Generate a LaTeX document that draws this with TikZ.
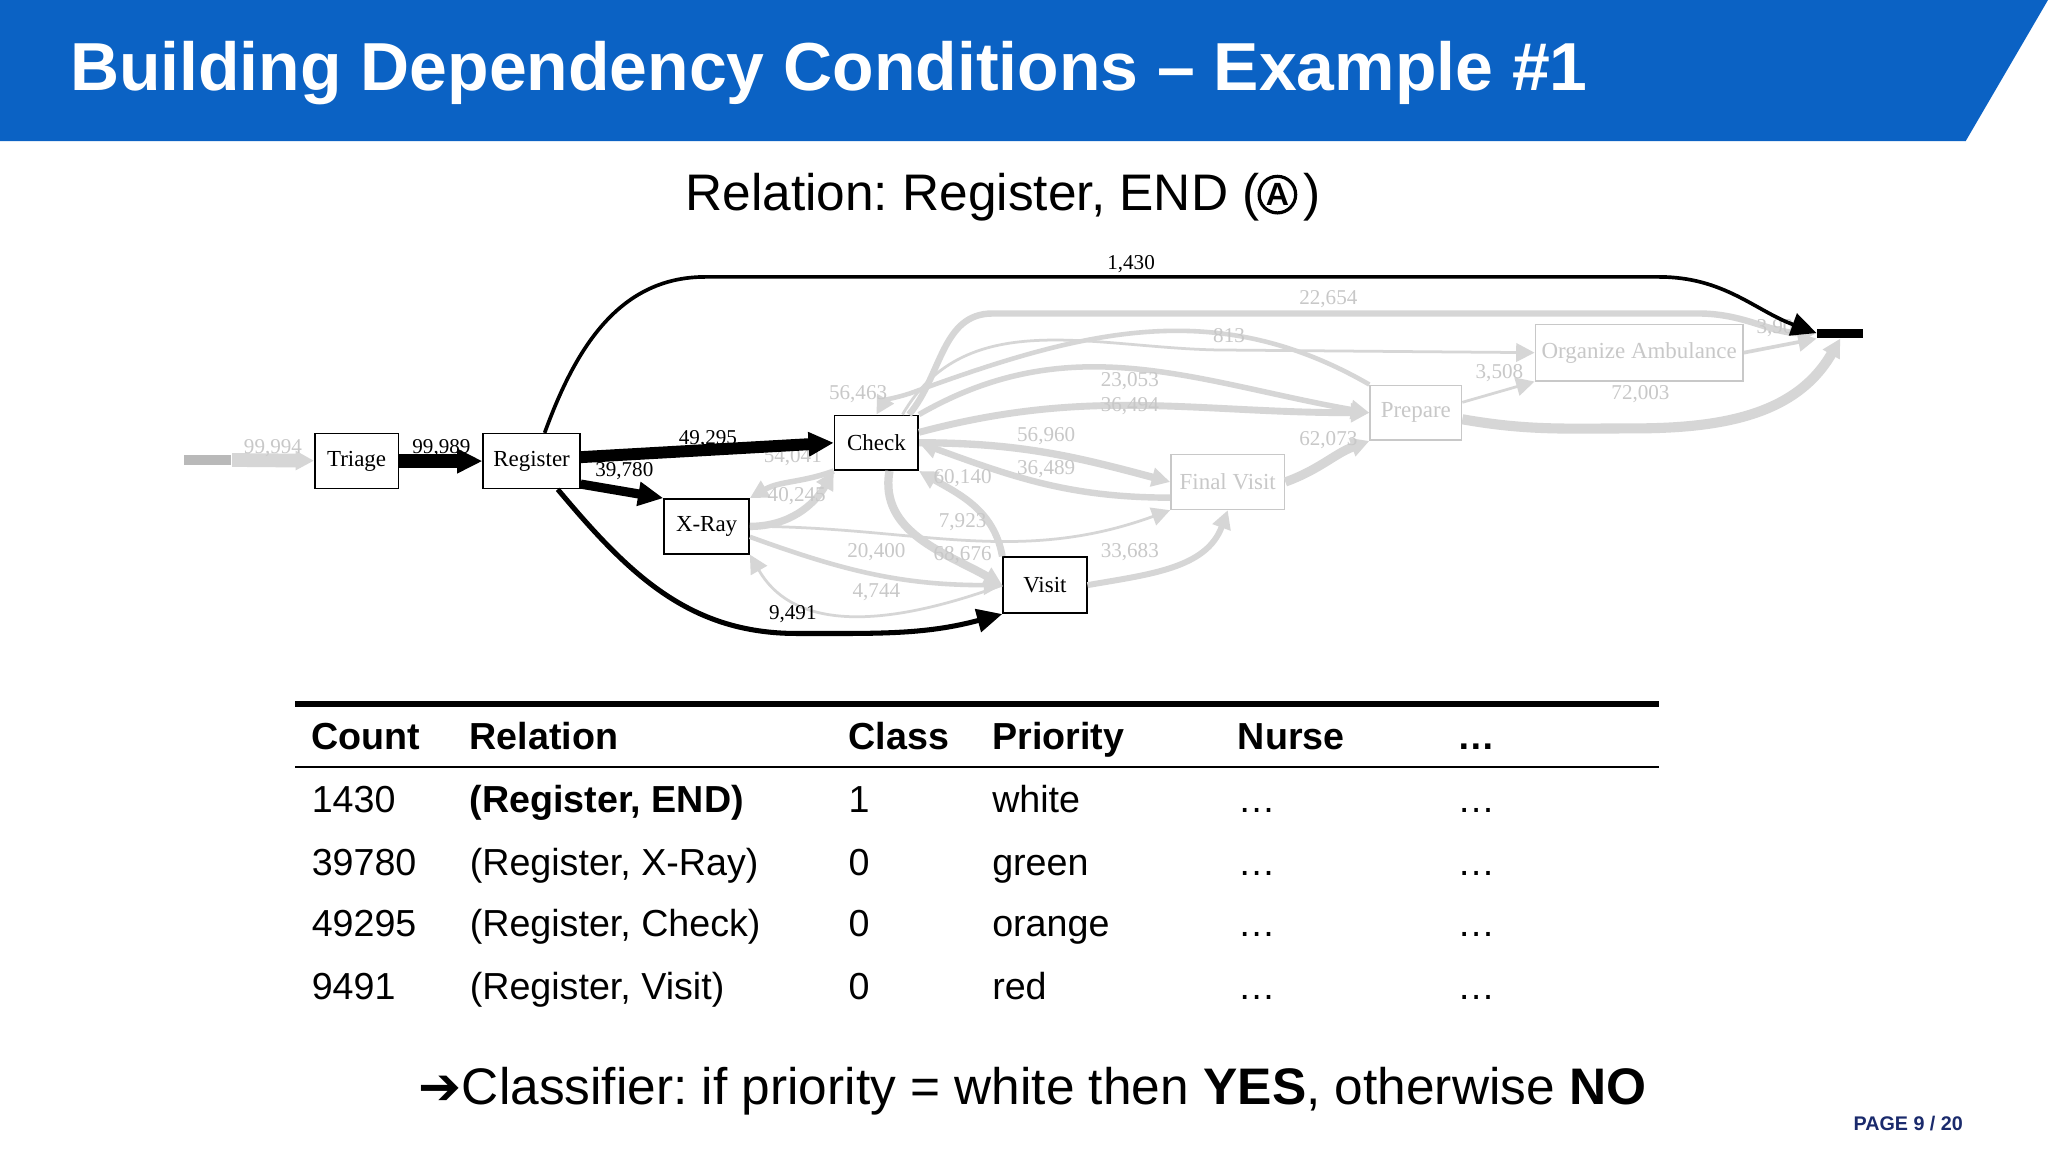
\documentclass[tikz,border=0pt]{standalone}
\usepackage{fontspec}
\setmainfont{Liberation Sans}
\newfontfamily\serif{Liberation Serif}
\newfontfamily\dejavu{DejaVu Sans}
\usetikzlibrary{arrows.meta}
\frenchspacing
\definecolor{banner}{HTML}{0B62C4}
\definecolor{navy}{HTML}{1A2A6C}
\definecolor{faint}{HTML}{D6D6D6}
\definecolor{faintt}{HTML}{C8C8C8}
\tikzset{
  box/.style={draw, line width=0.35pt, inner sep=0, font=\serif\fontsize{5}{6}\selectfont},
  fbox/.style={box, draw=faintt, text=faintt},
  lbl/.style={font=\serif\fontsize{4.6}{5}\selectfont, inner sep=0},
  flbl/.style={lbl, text=faintt},
  fe/.style={draw=faint, line width=#1, -{Triangle[length=4pt,width=4pt]}},
  be/.style={line width=#1, -{Triangle[length=5.5pt,width=5pt]}},
  hdr/.style={font=\bfseries\fontsize{8.2}{10}\selectfont, anchor=base west, inner sep=0},
  cell/.style={font=\fontsize{8.2}{10}\selectfont, anchor=base west, inner sep=0},
}
\begin{document}
\begin{tikzpicture}[x=0.1mm,y=-0.1mm]
\useasboundingbox (0,0) rectangle (1568,882);
\fill[white] (0,0) rectangle (1568,882);
% banner
\fill[banner] (0,0) -- (1568,0) -- (1505,108) -- (0,108) -- cycle;
\node[anchor=west, text=white, font=\bfseries\fontsize{14.8}{18}\selectfont, inner sep=0] (title) at (53,56) {Building Dependency Conditions -- Example \#1};
\node[font=\fontsize{11.2}{13}\selectfont, inner sep=0, anchor=base west] (rel) at (524,161) {Relation: Register, END (\hspace{3.4mm})};
\node[draw, circle, line width=0.7pt, minimum size=28*0.1mm, inner sep=0, font=\bfseries\fontsize{7}{8}\selectfont] (circA) at (978,149) {A};

% nodes
\node[fill=gray!55, minimum width=36*0.1mm, minimum height=8*0.1mm, inner sep=0] (start) at (159,352) {};
\node[box, minimum width=64*0.1mm, minimum height=42*0.1mm] (triage) at (273,353) {Triage};
\node[box, minimum width=74*0.1mm, minimum height=42*0.1mm] (reg) at (407,353) {Register};
\node[box, minimum width=64*0.1mm, minimum height=42*0.1mm] (check) at (671,339) {Check};
\node[box, minimum width=65*0.1mm, minimum height=42*0.1mm] (xray) at (541,403) {X-Ray};
\node[box, minimum width=64*0.1mm, minimum height=43*0.1mm] (visit) at (800,448) {Visit};
\node[fbox, minimum width=87*0.1mm, minimum height=42*0.1mm] (fvisit) at (940,369) {Final Visit};
\node[fbox, minimum width=70*0.1mm, minimum height=42*0.1mm] (prep) at (1084,316) {Prepare};
\node[fbox, minimum width=159*0.1mm, minimum height=43*0.1mm] (amb) at (1255,270) {Organize Ambulance};
\node[fill=black, minimum width=35*0.1mm, minimum height=7*0.1mm, inner sep=0] (end) at (1409,255) {};

% faint edges
\draw[fe=3pt] (start) -- (triage);
\draw[fe=1.6pt] (xray.east) to[out=0,in=240] (check.south west);
\draw[fe=1.2pt] (check.south west) to[out=200,in=30] (xray.north east);
\draw[fe=0.6pt] (xray.east) to[out=0,in=200] (fvisit.south west);
\draw[fe=1pt] (xray.east) ++(0,8) to[out=-20,in=180] (visit.west);
\draw[fe=0.6pt] (visit.west) to[out=200,in=-60] (xray.south east);
\draw[fe=1.8pt] (check.south) ++(10,0) to[out=260,in=150] (visit.west);
\draw[fe=1.5pt] (visit.north west) to[out=100,in=-30] (check.south east);
\draw[fe=1.6pt] (check.east) to[out=0,in=165] (fvisit.west);
\draw[fe=1.4pt] (fvisit.west) ++(0,12) to[out=180,in=-20] (check.east);
\draw[fe=1.5pt] (check.east) ++(0,-8) to[out=15,in=180] (prep.west);
\draw[fe=1.2pt] (check.north east) to[out=30,in=170] (prep.west);
\draw[fe=0.6pt] (check.north) ++(20,0) to[out=60,in=180] (940,268) -- (amb.west);
\draw[fe=1.4pt] (check.north) ++(25,0) to[out=50,in=180] (760,240) -- (1300,240) to[out=0,in=180] (end.west);
\draw[fe=1pt] (prep.north west) to[out=150,in=20] (700,300) to[out=200,in=60] (check.north);
\draw[fe=1.3pt] (visit.east) to[out=10,in=250] (fvisit.south);
\draw[fe=2pt] (fvisit.east) to[out=20,in=200] (prep.south west);
\draw[fe=0.6pt] (prep.east) ++(0,-8) -- (amb.west|-amb.south);
\draw[fe=0.8pt] (amb.east) -- (end.south west);
\draw[fe=2.2pt] (prep.east) ++(0,5) to[out=-10,in=180] (1250,328) to[out=0,in=240] (end.south);

% faint labels
\node[flbl] (l1) at (209,343) {99,994};
\node[flbl] (l2) at (607,350) {54,041};
\node[flbl] (l3) at (610,380) {40,245};
\node[flbl] (l4) at (657,302) {56,463};
\node[flbl] (l5) at (737,366) {60,140};
\node[flbl] (l6) at (737,400) {7,923};
\node[flbl] (l7) at (671,423) {20,400};
\node[flbl] (l8) at (737,425) {68,676};
\node[flbl] (l9) at (671,453) {4,744};
\node[flbl] (l10) at (801,334) {56,960};
\node[flbl] (l11) at (801,359) {36,489};
\node[flbl] (l12) at (865,292) {23,053};
\node[flbl] (l13) at (865,311) {36,494};
\node[flbl] (l14) at (941,257) {813};
\node[flbl] (l15) at (1017,229) {22,654};
\node[flbl] (l16) at (865,423) {33,683};
\node[flbl] (l17) at (1017,337) {62,073};
\node[flbl] (l18) at (1148,286) {3,508};
\node[flbl] (l19) at (1256,302) {72,003};
\node[flbl] (l20) at (1363,251) {3,909};

% black edges
\draw[be=3.2pt] (triage) -- (reg);
\draw[be=2.6pt] (reg.east) ++(0,-3) -- (check.west);
\draw[be=2pt] (reg.south east) ++(0,-4) -- (xray.north west);
\draw[be=1.1pt] (reg.south) ++(20,0) to[out=-50,in=180] (610,485) to[out=0,in=195] (visit.south west);
\draw[be=0.8pt] (reg.north) ++(10,0) to[out=70,in=180] (540,212) -- (1270,212) to[out=0,in=160] (end.west);
\node[lbl] (b1) at (338,343) {99,989};
\node[lbl] (b2) at (542,336) {49,295};
\node[lbl] (b3) at (478,361) {39,780};
\node[lbl] (b4) at (607,470) {9,491};
\node[lbl] (b5) at (866,202) {1,430};

% table
\draw[line width=1.1pt] (226,539) -- (1270,539);
\draw[line width=0.5pt] (226,587) -- (1270,587);
\node[hdr] (h1) at (238,574) {Count};
\node[hdr] (h2) at (359,574) {Relation};
\node[hdr] (h3) at (649,574) {Class};
\node[hdr] (h4) at (759,574) {Priority};
\node[hdr] (h5) at (947,574) {Nurse};
\node[hdr] (h6) at (1115,574) {\dots};
\foreach \y/\c/\r/\k/\p in {622/1430/{\bfseries (Register, END)}/1/white, 670/39780/{(Register, X-Ray)}/0/green, 717/49295/{(Register, Check)}/0/orange, 765/9491/{(Register, Visit)}/0/red}{
  \node[cell] at (238,\y) {\c};
  \node[cell] at (359,\y) {\r};
  \node[cell] at (649,\y) {\k};
  \node[cell] at (759,\y) {\p};
  \node[cell] at (947,\y) {\dots};
  \node[cell] at (1115,\y) {\dots};
}
\node[font=\fontsize{11.2}{13}\selectfont, anchor=base west, inner sep=0] (cls) at (320,846) {{\dejavu ➔}Classifier: if priority = white then \textbf{YES}, otherwise \textbf{NO}};
\node[font=\bfseries\fontsize{4.3}{5}\selectfont, text=navy, inner sep=0] (page) at (1461,860) {PAGE 9 / 20};
\end{tikzpicture}
\end{document}
